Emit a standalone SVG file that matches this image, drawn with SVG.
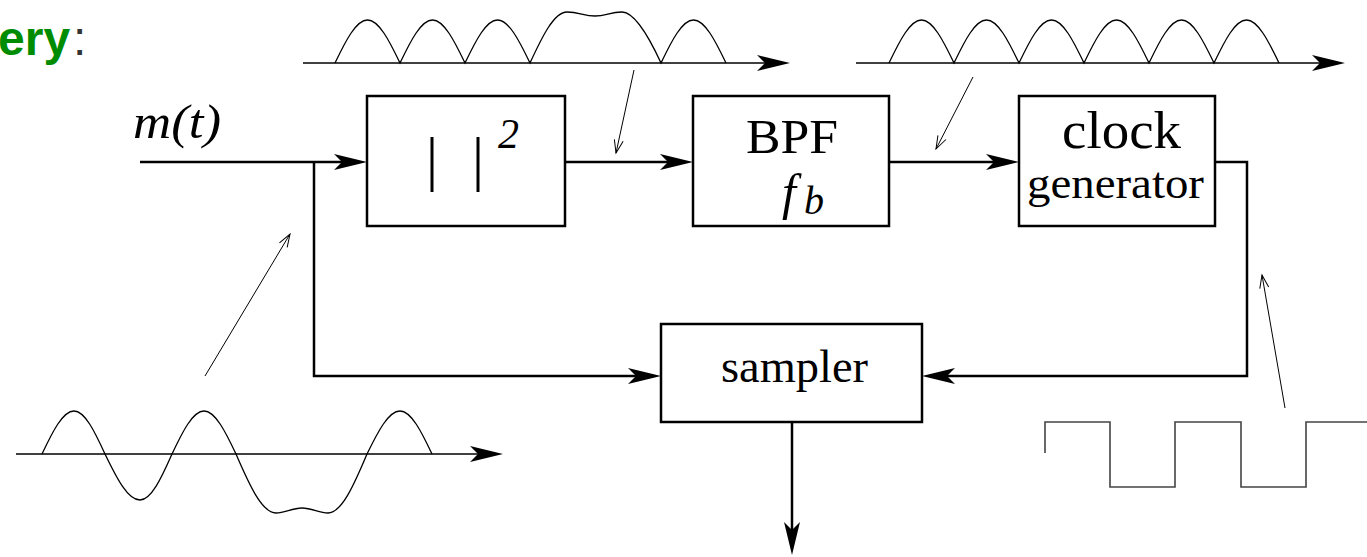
<svg xmlns="http://www.w3.org/2000/svg" width="1367" height="557" viewBox="0 0 1367 557">
<style>
.box{fill:#fff;stroke:#000;stroke-width:2.5}
.conn{fill:none;stroke:#000;stroke-width:2.5}
.wave{fill:none;stroke:#000;stroke-width:1.3}
.axis{fill:none;stroke:#000;stroke-width:1.5}
.ptr{fill:none;stroke:#000;stroke-width:1}
.sq{fill:none;stroke:#444;stroke-width:1.6}
.serif{font-family:"Liberation Serif","Times New Roman",serif;fill:#000}
.it{font-style:italic}
</style>
<defs>
<marker id="ah" markerUnits="userSpaceOnUse" viewBox="-9 -9 35 18" markerWidth="35" markerHeight="18" refX="0" refY="0" orient="auto" overflow="visible">
<path d="M25,0 L-8,-8 L0,0 L-8,8 Z" fill="#000"/>
</marker>
<marker id="vh" markerUnits="userSpaceOnUse" viewBox="-14 -6 16 12" markerWidth="16" markerHeight="12" refX="0" refY="0" orient="auto" overflow="visible">
<path d="M-13,-4.5 L0,0 L-13,4.5" fill="none" stroke="#000" stroke-width="1"/>
</marker>
</defs>

<text x="-2" y="55" font-family="'Liberation Sans',Arial,sans-serif" font-size="48" font-weight="bold" fill="#008c00">ery<tspan x="73" font-weight="normal" fill="#333">:</tspan></text>

<g id="connectors">
<path class="conn" d="M140,162 H342" marker-end="url(#ah)"/>
<path class="conn" d="M314,162 V376 H636" marker-end="url(#ah)"/>
<path class="conn" d="M565,162 H668" marker-end="url(#ah)"/>
<path class="conn" d="M889,162 H994" marker-end="url(#ah)"/>
<path class="conn" d="M1215,162 H1247 V376 H947" marker-end="url(#ah)"/>
<path class="conn" d="M792,422 V530" marker-end="url(#ah)"/>
</g>

<g id="label-mt">
<text class="serif it" x="133" y="138" font-size="48" textLength="88" lengthAdjust="spacingAndGlyphs">m(t)</text>
</g>

<g id="node-square">
<rect class="box" x="367" y="96" width="198" height="130"/>
<line x1="432" y1="137" x2="432" y2="192" stroke="#000" stroke-width="3"/>
<line x1="478" y1="137" x2="478" y2="192" stroke="#000" stroke-width="3"/>
<text class="serif it" x="498" y="148" font-size="42">2</text>
</g>

<g id="node-bpf">
<rect class="box" x="693" y="96" width="196" height="130"/>
<text class="serif" x="746" y="153" font-size="48" textLength="92" lengthAdjust="spacingAndGlyphs">BPF</text>
<text class="serif it" x="782" y="209" font-size="50">f</text>
<text class="serif it" x="804" y="214" font-size="40">b</text>
</g>

<g id="node-clock">
<rect class="box" x="1019" y="96" width="196" height="130"/>
<text class="serif" x="1062" y="148" font-size="52" textLength="119" lengthAdjust="spacingAndGlyphs">clock</text>
<text class="serif" x="1027" y="198" font-size="45" textLength="177" lengthAdjust="spacingAndGlyphs">generator</text>
</g>

<g id="node-sampler">
<rect class="box" x="661" y="324" width="261" height="98"/>
<text class="serif" x="721" y="382" font-size="46" textLength="147" lengthAdjust="spacingAndGlyphs">sampler</text>
</g>

<g id="wave-squared">
<line class="axis" x1="303" y1="63" x2="765" y2="63" marker-end="url(#ah)"/>
<path class="wave" d="M335,63 c10.6,-22 21.1,-43 32.5,-43 c11.4,0 21.9,21 32.5,43 c10.6,-22 21.1,-43 32.5,-43 c11.4,0 21.9,21 32.5,43 c10.6,-22 21.1,-43 32.5,-43 c11.4,0 21.9,21 32.5,43 c12,-26 24,-51 37,-51 c12,0 17,4 28,4 c11,0 15,-4 27,-4 c13,0 27,25 39,51 c10.6,-22 21.1,-43 32.5,-43 c11.4,0 21.9,21 32.5,43"/>
<line class="ptr" x1="634" y1="70" x2="616" y2="153" marker-end="url(#vh)"/>
</g>

<g id="wave-filtered">
<line class="axis" x1="856" y1="63" x2="1320" y2="63" marker-end="url(#ah)"/>
<path class="wave" d="M889,63 c10.6,-22 21.1,-43 32.5,-43 c11.4,0 21.9,21 32.5,43 c10.6,-22 21.1,-43 32.5,-43 c11.4,0 21.9,21 32.5,43 c10.6,-22 21.1,-43 32.5,-43 c11.4,0 21.9,21 32.5,43 c10.6,-22 21.1,-43 32.5,-43 c11.4,0 21.9,21 32.5,43 c10.6,-22 21.1,-43 32.5,-43 c11.4,0 21.9,21 32.5,43 c10.6,-22 21.1,-43 32.5,-43 c11.4,0 21.9,21 32.5,43"/>
<line class="ptr" x1="973" y1="77" x2="936" y2="149" marker-end="url(#vh)"/>
</g>

<g id="wave-input">
<line class="axis" x1="16" y1="454" x2="478" y2="454" marker-end="url(#ah)"/>
<path class="wave" d="M42,454 c10.4,-22 20.8,-43 32,-43 c10.9,0 20.9,21 31,43 c11.4,23.6 22.7,46 35,46 c11.2,0 21.6,-22.4 32,-46 c10.4,-22 20.8,-43 32,-43 c11.2,0 21.6,21 32,43 c13,30.2 25.9,59 40,59 c9,0 16,-5 26,-5 c10,0 17,5 26,5 c13.7,0 26.3,-28.8 39,-59 c10.8,-22 21.4,-43 33,-43 c11.2,0 21.6,21 32,43"/>
<line class="ptr" x1="205" y1="376" x2="290" y2="234" marker-end="url(#vh)"/>
</g>

<g id="wave-clock">
<polyline class="sq" points="1045,453 1045,422 1110,422 1110,487 1175,487 1175,422 1241,422 1241,487 1306,487 1306,422 1367,422"/>
<line class="ptr" x1="1285" y1="408" x2="1262" y2="275" marker-end="url(#vh)"/>
</g>
</svg>
